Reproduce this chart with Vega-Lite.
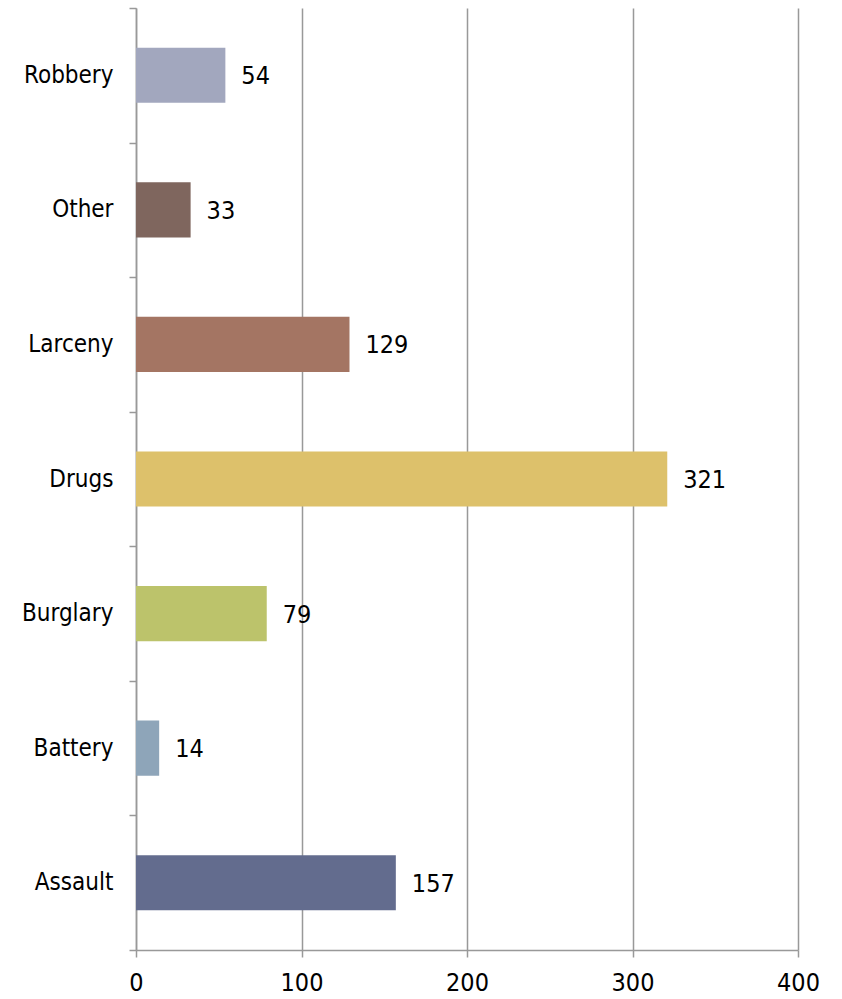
{
  "$schema": "https://vega.github.io/schema/vega-lite/v6.json",
  "autosize": "none",
  "width": 662,
  "height": 942,
  "padding": {"left": 136, "top": 8, "right": 44, "bottom": 49},
  "background": "white",
  "config": {
    "view": {"stroke": null},
    "font": "DejaVu Sans Condensed, Liberation Sans, sans-serif"
  },
  "data": {
    "values": [
      {"category": "Robbery", "count": 54},
      {"category": "Other", "count": 33},
      {"category": "Larceny", "count": 129},
      {"category": "Drugs", "count": 321},
      {"category": "Burglary", "count": 79},
      {"category": "Battery", "count": 14},
      {"category": "Assault", "count": 157}
    ]
  },
  "encoding": {
    "y": {
      "field": "category",
      "type": "nominal",
      "sort": ["Robbery", "Other", "Larceny", "Drugs", "Burglary", "Battery", "Assault"],
      "scale": {"paddingInner": 0, "paddingOuter": 0},
      "axis": {
        "title": null,
        "tickBand": "extent",
        "domainColor": "#999999",
        "domainWidth": 1.5,
        "tickColor": "#999999",
        "tickWidth": 1.5,
        "tickSize": 7,
        "labelFont": "DejaVu Sans Condensed, Liberation Sans, sans-serif",
        "labelFontSize": 24,
        "labelColor": "#000000",
        "labelPadding": 16,
        "grid": false
      }
    },
    "x": {
      "field": "count",
      "type": "quantitative",
      "scale": {"domain": [0, 400], "nice": false},
      "axis": {
        "title": null,
        "values": [0, 100, 200, 300, 400],
        "grid": true,
        "gridColor": "#999999",
        "gridWidth": 1.5,
        "domainColor": "#999999",
        "domainWidth": 1.5,
        "tickColor": "#999999",
        "tickWidth": 1.5,
        "tickSize": 7,
        "labelFlush": false,
        "labelFont": "DejaVu Sans Condensed, Liberation Sans, sans-serif",
        "labelFontSize": 25,
        "labelColor": "#000000",
        "labelPadding": 13
      }
    }
  },
  "layer": [
    {
      "mark": {"type": "bar", "height": {"band": 0.41}},
      "encoding": {
        "color": {
          "field": "category",
          "type": "nominal",
          "legend": null,
          "scale": {
            "domain": ["Robbery", "Other", "Larceny", "Drugs", "Burglary", "Battery", "Assault"],
            "range": ["#A2A7BE", "#7F665E", "#A47563", "#DDC16B", "#BCC36B", "#8EA5B9", "#636C8E"]
          }
        }
      }
    },
    {
      "mark": {"type": "text", "align": "left", "baseline": "middle", "dx": 16, "dy": 1, "fontSize": 25, "font": "DejaVu Sans Condensed, Liberation Sans, sans-serif", "color": "#000000"},
      "encoding": {
        "text": {"field": "count", "type": "quantitative"}
      }
    }
  ]
}
